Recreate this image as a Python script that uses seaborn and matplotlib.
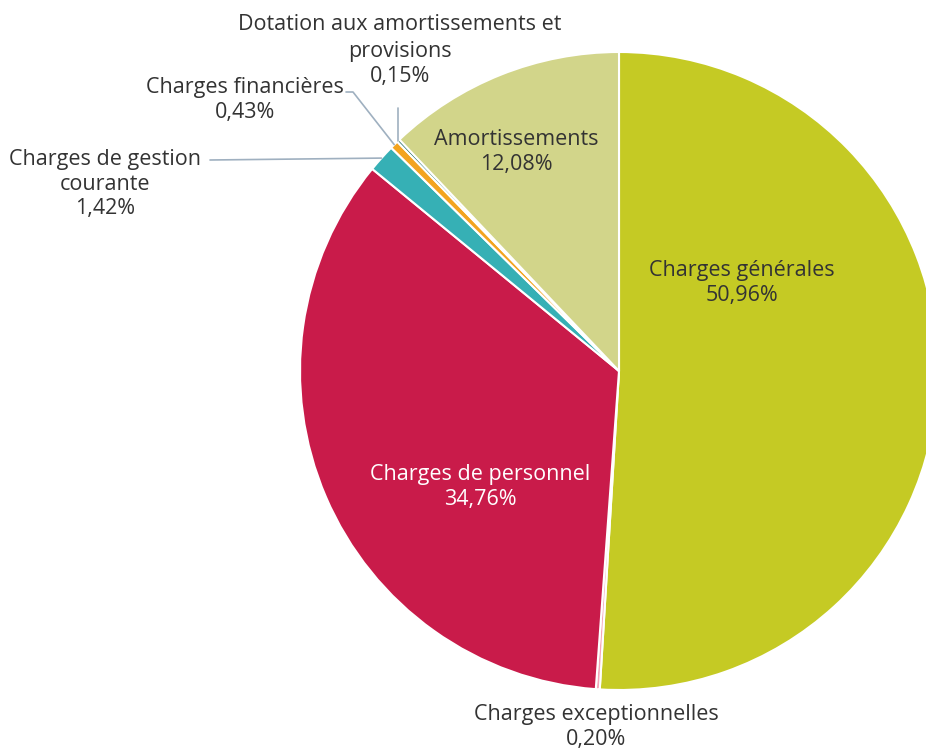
import numpy as np
import matplotlib
matplotlib.use("Agg")
import matplotlib.pyplot as plt
import seaborn as sns

# Répartition des charges (%)
categories = [
    "Charges générales",
    "Charges exceptionnelles",
    "Charges de personnel",
    "Charges de gestion courante",
    "Charges financières",
    "Dotation aux amortissements et provisions",
    "Amortissements",
]
values = [50.96, 0.20, 34.76, 1.42, 0.43, 0.15, 12.08]
colors = ["#c5ca24", "#f4a6b8", "#c91b4a", "#36b0b5", "#f3a41f", "#1d6b66", "#d2d58a"]

sns.set_theme(style="white")
plt.rcParams["font.family"] = ["Open Sans", "DejaVu Sans"]

W, H = 926, 748
R_PX = 319.0
CX, CY = 619.0, 371.0

fig = plt.figure(figsize=(W / 100, H / 100), dpi=100)
ax = fig.add_axes([0, 0, 1, 1])

wedges, _ = ax.pie(
    values,
    colors=colors,
    startangle=90,
    counterclock=False,
    radius=1.0,
    center=(0, 0),
    wedgeprops=dict(edgecolor="white", linewidth=1.5),
)

ax.set_xlim(-CX / R_PX, (W - CX) / R_PX)
ax.set_ylim(-(H - CY) / R_PX, CY / R_PX)
ax.set_aspect("auto")
ax.axis("off")


def px(x, y):
    """Pixel position (from top-left) to data coordinates."""
    return (x - CX) / R_PX, (CY - y) / R_PX


def fmt(v):
    return f"{v:.2f}".replace(".", ",") + "%"


def mid_point(i, r=1.0):
    w = wedges[i]
    a = np.deg2rad((w.theta1 + w.theta2) / 2)
    return r * np.cos(a), r * np.sin(a)


TXT = "#333333"
FS = 15.5
LS = 1.22
LINE = "#9fb0c0"

# labels inside the large wedges
inside = {
    0: ((742, 283), TXT),
    2: ((480, 487), "white"),
    6: ((516, 152), TXT),
}
for i, ((x, y), c) in inside.items():
    ax.text(*px(x, y), f"{categories[i]}\n{fmt(values[i])}", ha="center", va="center",
            fontsize=FS, color=c, linespacing=LS)

# Charges exceptionnelles, below the pie
ax.text(*px(596, 727), f"{categories[1]}\n{fmt(values[1])}", ha="center", va="center",
        fontsize=FS, color=TXT, linespacing=LS)

# Charges de gestion courante
ax.text(*px(105, 184), "Charges de gestion\ncourante\n" + fmt(values[3]), ha="center",
        va="center", fontsize=FS, color=TXT, linespacing=LS)
gx, gy = mid_point(3)
ax.plot([px(210, 160)[0], gx], [px(210, 160)[1], gy], color=LINE, lw=1.2)

# Charges financières
ax.text(*px(245, 100), f"{categories[4]}\n{fmt(values[4])}", ha="center", va="center",
        fontsize=FS, color=TXT, linespacing=LS)
fx, fy = mid_point(4)
p1, p2 = px(346, 92), px(353, 92)
ax.plot([p1[0], p2[0], fx], [p1[1], p2[1], fy], color=LINE, lw=1.2)

# Dotation aux amortissements et provisions (first line set apart)
ax.text(*px(400, 24), "Dotation aux amortissements et", ha="center", va="center",
        fontsize=FS, color=TXT)
ax.text(*px(400, 64), "provisions\n" + fmt(values[5]), ha="center", va="center",
        fontsize=FS, color=TXT, linespacing=LS)
dx, dy = mid_point(5)
ax.plot([dx, dx], [px(0, 108)[1], dy], color=LINE, lw=1.2)

fig.savefig("out.png", dpi=100, facecolor="white")
